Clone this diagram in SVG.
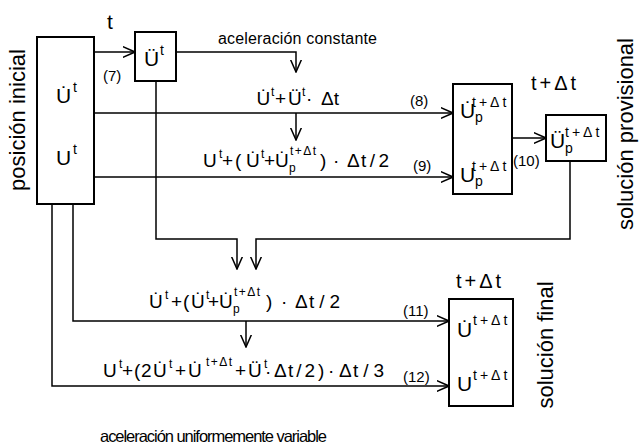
<svg xmlns="http://www.w3.org/2000/svg" width="639" height="447" viewBox="0 0 639 447">
<style>
text{font-family:"Liberation Sans",Arial,sans-serif;fill:#000}
.box{fill:none;stroke:#000;stroke-width:2}
.ln{fill:none;stroke:#000;stroke-width:1.5}
.ar{marker-end:url(#ah)}
.m{font-size:19px}
.b{font-size:21px}
.s{font-size:12px}
.bs{font-size:14px;letter-spacing:3px}
.bp{font-size:14px}
.fs{font-size:12px;letter-spacing:1.5px}
.n{font-size:15px}
.lab{font-size:22px}
.tt{font-size:20px;letter-spacing:3px}
</style>
<defs>
<marker id="ah" viewBox="0 0 13 12" refX="12.5" refY="6" markerWidth="13" markerHeight="12" markerUnits="userSpaceOnUse" orient="auto">
<path d="M0,0.5 L12.5,6 L0,11.5" fill="none" stroke="#000" stroke-width="1.5"/>
</marker>
</defs>
<rect width="639" height="447" fill="#fff"/>

<g id="connectors">
<path class="ln ar" d="M94,52 H135"/>
<path class="ln ar" d="M176,52 H296 V72"/>
<path class="ln ar" d="M94,113 H453"/>
<path class="ln ar" d="M296,113 V140"/>
<path class="ln ar" d="M94,177 H453"/>
<path class="ln ar" d="M156,81 V239 H237 V269"/>
<path class="ln ar" d="M512,138 H546"/>
<path class="ln ar" d="M570,161 V239 H256 V269"/>
<path class="ln ar" d="M73,204 V321 H449"/>
<path class="ln ar" d="M246,321 V347"/>
<path class="ln ar" d="M52,204 V386 H449"/>
</g>

<g id="posicion-inicial">
<rect class="box" x="37" y="37" width="57" height="167"/>
<text><tspan class="b" x="56" y="103">U&#x307;</tspan><tspan class="bp" x="73" y="92">t</tspan></text>
<text><tspan class="b" x="56" y="165">U</tspan><tspan class="bp" x="73" y="154">t</tspan></text>
<text class="lab" transform="translate(25,120) rotate(-90)" text-anchor="middle">posición inicial</text>
</g>

<g id="aceleracion-t">
<text class="b" x="107" y="29">t</text>
<rect class="box" x="135" y="32" width="41" height="49"/>
<text><tspan class="b" x="144" y="66">Ü</tspan><tspan class="bp" x="160" y="55">t</tspan></text>
<text class="n" x="103" y="81">(7)</text>
</g>

<g id="formula-8">
<text font-size="16" x="218" y="44" textLength="159">aceleración constante</text>
<text><tspan class="m" x="256.5" y="105">U&#x307;</tspan><tspan class="s" x="271" y="96">t</tspan><tspan class="m" x="275" y="105">+</tspan><tspan class="m" x="288" y="105">Ü</tspan><tspan class="s" x="302" y="96">t</tspan><tspan class="m" x="306" y="105">·</tspan><tspan class="m" x="321" y="105">Δt</tspan></text>
<text class="n" x="410" y="106">(8)</text>
</g>

<g id="formula-9">
<text><tspan class="m" x="203" y="167">U</tspan><tspan class="s" x="219" y="158">t</tspan><tspan class="m" x="222" y="167">+</tspan><tspan class="m" x="235" y="167">(</tspan><tspan class="m" x="246" y="167">U&#x307;</tspan><tspan class="s" x="261" y="158">t</tspan><tspan class="m" x="264" y="167">+</tspan><tspan class="m" x="275" y="167">U&#x307;</tspan><tspan class="s" x="289" y="172">p</tspan><tspan class="fs" x="290" y="155">t+Δt</tspan><tspan class="m" x="320" y="167">)</tspan><tspan class="m" x="333" y="167">·</tspan><tspan class="m" x="347" y="167">Δ</tspan><tspan class="m" x="361" y="167" letter-spacing="3.5">t/2</tspan></text>
<text class="n" x="413" y="171">(9)</text>
</g>

<g id="solucion-provisional-p">
<text class="tt" x="531" y="90">t+Δt</text>
<rect class="box" x="453" y="84" width="59" height="110"/>
<text><tspan class="b" x="460" y="118">U&#x307;</tspan><tspan class="bp" x="475" y="122">p</tspan><tspan class="bs" x="472" y="107">t+Δt</tspan></text>
<text><tspan class="b" x="460" y="182">U</tspan><tspan class="bp" x="475" y="186">p</tspan><tspan class="bs" x="472" y="171">t+Δt</tspan></text>
</g>

<g id="solucion-provisional-a">
<rect class="box" x="546" y="115" width="60" height="46"/>
<text><tspan class="b" x="550" y="148">Ü</tspan><tspan class="bp" x="565" y="153">p</tspan><tspan class="bs" x="565" y="137">t+Δt</tspan></text>
<text class="n" x="513" y="166">(10)</text>
<text class="lab" transform="translate(633,134) rotate(-90)" text-anchor="middle">solución provisional</text>
</g>

<g id="formula-11">
<text><tspan class="m" x="149" y="308">U&#x307;</tspan><tspan class="s" x="165" y="299">t</tspan><tspan class="m" x="171" y="308">+</tspan><tspan class="m" x="183" y="308">(</tspan><tspan class="m" x="191" y="308">U&#x307;</tspan><tspan class="s" x="206" y="299">t</tspan><tspan class="m" x="208" y="308">+</tspan><tspan class="m" x="219" y="308">U&#x307;</tspan><tspan class="s" x="233" y="313">p</tspan><tspan class="fs" x="234" y="296">t+Δt</tspan><tspan class="m" x="266" y="308">)</tspan><tspan class="m" x="281" y="308">·</tspan><tspan class="m" x="295" y="308">Δ</tspan><tspan class="m" x="309" y="308" letter-spacing="5">t/2</tspan></text>
<text class="n" x="403" y="316">(11)</text>
</g>

<g id="formula-12">
<text><tspan class="m" x="103" y="377">U</tspan><tspan class="s" x="119" y="368">t</tspan><tspan class="m" x="122" y="377">+</tspan><tspan class="m" x="134" y="377">(</tspan><tspan class="m" x="141" y="377">2</tspan><tspan class="m" x="153" y="377">U&#x307;</tspan><tspan class="s" x="169" y="368">t</tspan><tspan class="m" x="175" y="377">+</tspan><tspan class="m" x="188" y="377">U&#x307;</tspan><tspan class="fs" x="206" y="366">t+Δt</tspan><tspan class="m" x="235" y="377">+</tspan><tspan class="m" x="248" y="377">Ü</tspan><tspan class="s" x="264" y="368">t</tspan><tspan class="m" x="265" y="378">·</tspan><tspan class="m" x="274" y="377">Δ</tspan><tspan class="m" x="288" y="377" letter-spacing="3">t/2)</tspan><tspan class="m" x="328" y="377">·</tspan><tspan class="m" x="339" y="377">Δ</tspan><tspan class="m" x="353" y="377" letter-spacing="5">t/3</tspan></text>
<text class="n" x="403" y="382">(12)</text>
<text font-size="16.5" x="100" y="442" textLength="227">aceleración uniformemente variable</text>
</g>

<g id="solucion-final">
<text class="tt" x="456" y="288">t+Δt</text>
<rect class="box" x="449" y="299" width="64" height="107"/>
<text><tspan class="b" x="457" y="337">U&#x307;</tspan><tspan class="bs" x="473" y="325">t+Δt</tspan></text>
<text><tspan class="b" x="457" y="391">U</tspan><tspan class="bs" x="473" y="380">t+Δt</tspan></text>
<text class="lab" transform="translate(553,345) rotate(-90)" text-anchor="middle">solución final</text>
</g>
</svg>
